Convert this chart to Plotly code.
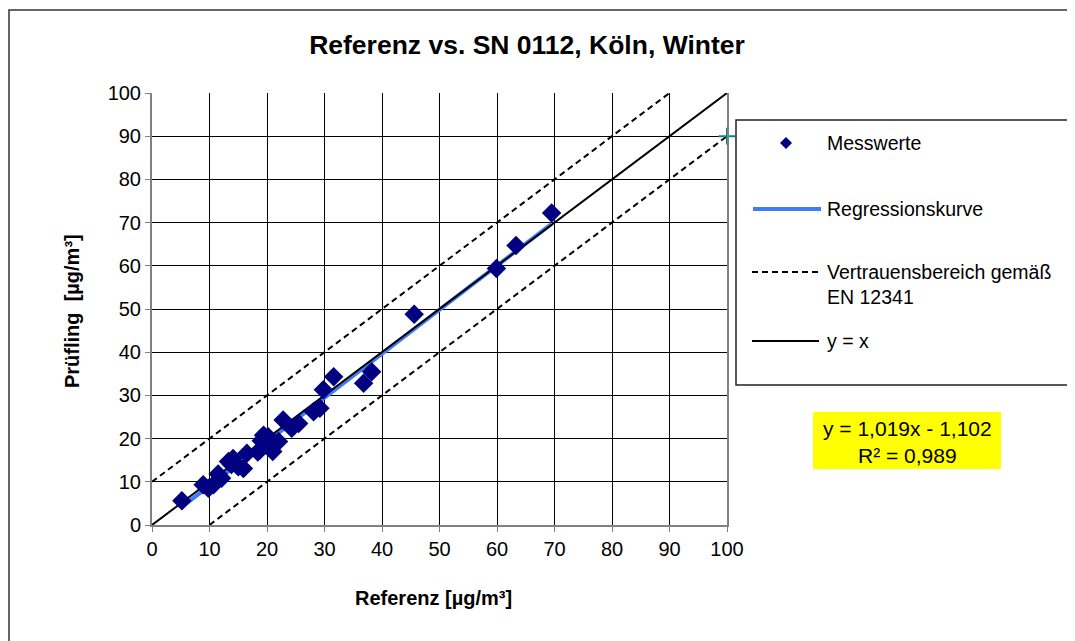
import plotly.graph_objects as go

# ---- data ----
referenz = [5.2, 8.9, 9.8, 10.7, 11.5, 12.1, 13.3, 13.8, 14.1, 15.0, 15.9, 16.5,
            18.4, 18.8, 19.0, 19.4, 20.2, 20.8, 21.0, 22.0, 22.8, 24.3, 25.5,
            28.1, 29.2, 29.8, 31.6, 36.8, 38.2, 45.6, 59.9, 63.3, 69.5]
pruefling = [5.6, 9.3, 8.5, 9.3, 11.8, 10.8, 14.7, 14.0, 15.4, 13.5, 13.1, 16.6,
             16.9, 17.4, 19.5, 20.8, 20.4, 18.5, 17.0, 19.3, 24.3, 22.4, 23.5,
             26.2, 27.0, 31.3, 34.3, 32.8, 35.5, 48.8, 59.4, 64.7, 72.2]
slope, intercept, r2 = 1.019, -1.102, 0.989
band = 10  # Vertrauensbereich +/-
extra_x, extra_y = [100], [90]  # small teal marker at plot edge

title = "Referenz vs. SN 0112, Köln, Winter"
x_title = "Referenz [µg/m³]"
y_title = "Prüfling  [µg/m³]"
legend_labels = ["Messwerte", "Regressionskurve", "Vertrauensbereich gemäß<br>EN 12341", "y = x"]

FONT = "Liberation Sans, Arial, sans-serif"
NAVY = "#000080"
BLUE = "#3F7CFA"
DASH = "6px,4px"

fig = go.Figure()

xmin, xmax = min(referenz), max(referenz)
fig.add_trace(go.Scatter(x=[0, 100 - band], y=[band, 100], mode="lines",
                         line=dict(color="black", width=2, dash=DASH), showlegend=False))
fig.add_trace(go.Scatter(x=[band, 100], y=[0, 100 - band], mode="lines",
                         line=dict(color="black", width=2, dash=DASH), showlegend=False))
fig.add_trace(go.Scatter(x=[xmin, xmax], y=[slope * xmin + intercept, slope * xmax + intercept],
                         mode="lines", line=dict(color=BLUE, width=4), showlegend=False))
fig.add_trace(go.Scatter(x=[0, 100], y=[0, 100], mode="lines",
                         line=dict(color="black", width=2), showlegend=False))
fig.add_trace(go.Scatter(x=referenz, y=pruefling, mode="markers",
                         marker=dict(symbol="diamond", size=15, color=NAVY), showlegend=False))
fig.add_trace(go.Scatter(x=extra_x, y=extra_y, mode="markers", cliponaxis=False,
                         marker=dict(symbol="cross-thin", size=12, color="#008B8B",
                                     line=dict(color="#008B8B", width=2)), showlegend=False))

# screen px of plot area: x 152..727, y 93..525 ; page has 8px body offset
OFF = 8
L, R, T, B = 152, 727, 93, 525
W, H = 1075, 641
def px(xp): return (xp - L) / (R - L)
def py(yp): return (B - yp) / (B - T)

shapes = []
annotations = []
# outer chart border
shapes.append(dict(type="rect", xref="paper", yref="paper",
                   x0=px(9), x1=px(1095), y0=py(660), y1=py(10),
                   line=dict(color="#333333", width=1.5)))
# legend box
shapes.append(dict(type="rect", xref="paper", yref="paper",
                   x0=px(736), x1=px(1068), y0=py(385), y1=py(120),
                   line=dict(color="#222222", width=1.5), fillcolor="white"))
cx, cy, d = 786, 143, 6
shapes.append(dict(type="path", xref="paper", yref="paper",
                   path=f"M {px(cx)},{py(cy-d)} L {px(cx+d)},{py(cy)} L {px(cx)},{py(cy+d)} L {px(cx-d)},{py(cy)} Z",
                   fillcolor=NAVY, line=dict(color=NAVY, width=0)))
shapes.append(dict(type="line", xref="paper", yref="paper", x0=px(753), x1=px(821),
                   y0=py(209), y1=py(209), line=dict(color=BLUE, width=4)))
shapes.append(dict(type="line", xref="paper", yref="paper", x0=px(752), x1=px(819),
                   y0=py(272), y1=py(272), line=dict(color="black", width=2, dash=DASH)))
shapes.append(dict(type="line", xref="paper", yref="paper", x0=px(752), x1=px(819),
                   y0=py(341), y1=py(341), line=dict(color="black", width=2)))
for lab, yy in zip(legend_labels, [143, 209, 284.5, 341]):
    annotations.append(dict(text=lab, xref="paper", yref="paper", x=px(825), y=py(yy),
                            xanchor="left", yanchor="middle", showarrow=False, align="left",
                            font=dict(family=FONT, size=19.5, color="black")))
# regression equation box
shapes.append(dict(type="rect", xref="paper", yref="paper",
                   x0=px(813), x1=px(1001), y0=py(469), y1=py(412),
                   fillcolor="#FFFF00", line=dict(width=0)))
annotations.append(dict(text=f"y = {slope:.3f}x - {abs(intercept):.3f}".replace(".", ",")
                        + "<br>" + f"R² = {r2:.3f}".replace(".", ","),
                        xref="paper", yref="paper", x=px(907), y=py(442),
                        xanchor="center", yanchor="middle", showarrow=False, align="center",
                        font=dict(family=FONT, size=21, color="black")))
# axis titles
annotations.append(dict(text=f"<b>{x_title}</b>", xref="paper", yref="paper", x=px(433), y=py(598),
                        xanchor="center", yanchor="middle", showarrow=False,
                        font=dict(family=FONT, size=20, color="black")))
annotations.append(dict(text=f"<b>{y_title}</b>", xref="paper", yref="paper", x=px(72), y=py(311),
                        xanchor="center", yanchor="middle", showarrow=False, textangle=-90,
                        font=dict(family=FONT, size=20, color="black")))

fig.update_layout(
    width=W, height=H,
    margin=dict(l=L - OFF, r=W - (R - OFF), t=T - OFF, b=H - (B - OFF)),
    paper_bgcolor="white", plot_bgcolor="white",
    title=dict(text=f"<b>{title}</b>", x=(527 - OFF) / W, xanchor="center",
               y=1 - (45 - OFF) / H, yanchor="middle",
               font=dict(family=FONT, size=26.5, color="black")),
    font=dict(family=FONT, color="black"),
    shapes=shapes, annotations=annotations,
    xaxis=dict(range=[0, 100], dtick=10, tick0=0, showgrid=True, gridcolor="#000000", gridwidth=1,
               zeroline=False, showline=True, linecolor="#808080", linewidth=2,
               ticks="outside", ticklen=5, tickcolor="#808080",
               tickfont=dict(family=FONT, size=20, color="black")),
    yaxis=dict(range=[0, 100], dtick=10, tick0=0, showgrid=True, gridcolor="#000000", gridwidth=1,
               zeroline=False, showline=True, linecolor="#808080", linewidth=2, mirror=True,
               ticks="outside", ticklen=5, tickcolor="#808080",
               tickfont=dict(family=FONT, size=20, color="black")),
)

fig.write_html("out.html")
